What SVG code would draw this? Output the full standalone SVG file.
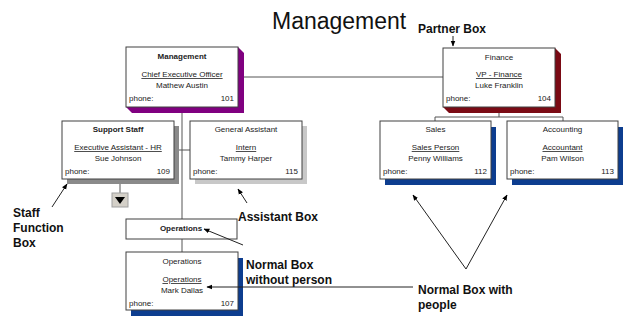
<svg xmlns="http://www.w3.org/2000/svg" width="626" height="324" viewBox="0 0 626 324">
<defs>
<marker id="ah" viewBox="0 0 10 10" refX="9" refY="5" markerWidth="6" markerHeight="6" orient="auto" markerUnits="userSpaceOnUse">
<path d="M0,1 L10,5 L0,9 z" fill="#000"/>
</marker>
<style>
.box{fill:#fff;stroke:#404040;stroke-width:1}
.t{font-family:"Liberation Sans",Arial,sans-serif;font-size:8px;fill:#222}
.c{text-anchor:middle}
.r{text-anchor:end}
.b{font-weight:bold}
.u{text-decoration:underline}
.lbl{font-family:"Liberation Sans",Arial,sans-serif;font-size:12px;font-weight:bold;fill:#111}
.con{stroke:#555;stroke-width:1;fill:none}
.arr{stroke:#222;stroke-width:1;fill:none;marker-end:url(#ah)}
</style>
</defs>
<rect width="626" height="324" fill="#fff"/>
<text x="272" y="29" font-family="Liberation Sans,Arial,sans-serif" font-size="23" fill="#111">Management</text>

<g id="connectors">
<line class="con" x1="238" y1="77" x2="443" y2="77"/>
<line class="con" x1="182" y1="107" x2="182" y2="219"/>
<line class="con" x1="174" y1="150" x2="190" y2="150"/>
<line class="con" x1="120" y1="179" x2="120" y2="193"/>
<line class="con" x1="182" y1="239" x2="182" y2="252"/>
<polyline class="con" points="499,107 499,117"/>
<polyline class="con" points="435,121 435,117 563,117 563,121"/>
</g>

<g id="management">
<polygon points="238,47 244,53 244,113 132,113 126,107" fill="#800080"/>
<rect class="box" x="126" y="47" width="112" height="60"/>
<text class="t c b" x="182" y="59">Management</text>
<text class="t c u" x="182" y="77">Chief Executive Officer</text>
<text class="t c" x="182" y="88">Mathew Austin</text>
<text class="t" x="129" y="101">phone:</text>
<text class="t r" x="234" y="101">101</text>
</g>

<g id="finance">
<polygon points="555,48 561,54 561,113 449,113 443,107" fill="#7a0a14"/>
<rect class="box" x="443" y="48" width="112" height="59"/>
<text class="t c" x="499" y="60">Finance</text>
<text class="t c u" x="499" y="77">VP - Finance</text>
<text class="t c" x="499" y="88">Luke Franklin</text>
<text class="t" x="446" y="101">phone:</text>
<text class="t r" x="551" y="101">104</text>
</g>

<g id="support-staff">
<rect x="67" y="126" width="112" height="58" fill="#8a8a8a"/>
<rect class="box" x="62" y="121" width="112" height="58"/>
<text class="t c b" x="118" y="132">Support Staff</text>
<text class="t c u" x="118" y="150">Executive Assistant - HR</text>
<text class="t c" x="118" y="161">Sue Johnson</text>
<text class="t" x="65" y="174">phone:</text>
<text class="t r" x="170" y="174">109</text>
</g>

<g id="staff-function-toggle">
<rect x="112" y="193" width="16" height="14" fill="#d4d0c8" stroke="#a0a0a0"/>
<polygon points="115,197 125,197 120,204" fill="#000"/>
</g>

<g id="general-assistant">
<rect x="195" y="126" width="112" height="58" fill="#c8c8c8"/>
<rect class="box" x="190" y="121" width="112" height="58"/>
<text class="t c" x="246" y="132">General Assistant</text>
<text class="t c u" x="246" y="150">Intern</text>
<text class="t c" x="246" y="161">Tammy Harper</text>
<text class="t" x="193" y="174">phone:</text>
<text class="t r" x="298" y="174">115</text>
</g>

<g id="sales">
<rect x="385" y="127" width="111" height="58" fill="#0d3d8f"/>
<rect class="box" x="380" y="121" width="111" height="58"/>
<text class="t c" x="435.5" y="132">Sales</text>
<text class="t c u" x="435.5" y="150">Sales Person</text>
<text class="t c" x="435.5" y="161">Penny Williams</text>
<text class="t" x="383" y="174">phone:</text>
<text class="t r" x="487" y="174">112</text>
</g>

<g id="accounting">
<rect x="512" y="127" width="111" height="58" fill="#0d3d8f"/>
<rect class="box" x="507" y="121" width="111" height="58"/>
<text class="t c" x="562.5" y="132">Accounting</text>
<text class="t c u" x="562.5" y="150">Accountant</text>
<text class="t c" x="562.5" y="161">Pam Wilson</text>
<text class="t" x="510" y="174">phone:</text>
<text class="t r" x="614" y="174">113</text>
</g>

<g id="operations-function">
<rect class="box" x="126" y="219" width="111" height="20"/>
<text class="t c b" x="181" y="231">Operations</text>
</g>

<g id="operations">
<rect x="131" y="258" width="112" height="58" fill="#0d3d8f"/>
<rect class="box" x="126" y="252" width="112" height="58"/>
<text class="t c" x="182" y="264">Operations</text>
<text class="t c u" x="182" y="282">Operations</text>
<text class="t c" x="182" y="293">Mark Dallas</text>
<text class="t" x="129" y="306">phone:</text>
<text class="t r" x="234" y="306">107</text>
</g>

<g id="annotations">
<text class="lbl" x="418" y="33">Partner Box</text>
<line class="arr" x1="453" y1="36" x2="453" y2="46"/>
<text class="lbl" x="13" y="217">Staff</text>
<text class="lbl" x="13" y="232">Function</text>
<text class="lbl" x="13" y="247">Box</text>
<line class="arr" x1="52" y1="207" x2="67" y2="184"/>
<text class="lbl" x="238" y="221">Assistant Box</text>
<line class="arr" x1="247" y1="203" x2="238" y2="189"/>
<line class="arr" x1="243" y1="245" x2="204" y2="229"/>
<text class="lbl" x="246" y="269">Normal Box</text>
<text class="lbl" x="246" y="284">without person</text>
<line class="arr" x1="413" y1="287" x2="207" y2="287"/>
<text class="lbl" x="418" y="294">Normal Box with</text>
<text class="lbl" x="418" y="309">people</text>
<line class="arr" x1="466" y1="269" x2="413" y2="195"/>
<line class="arr" x1="466" y1="269" x2="507" y2="195"/>
</g>
</svg>
